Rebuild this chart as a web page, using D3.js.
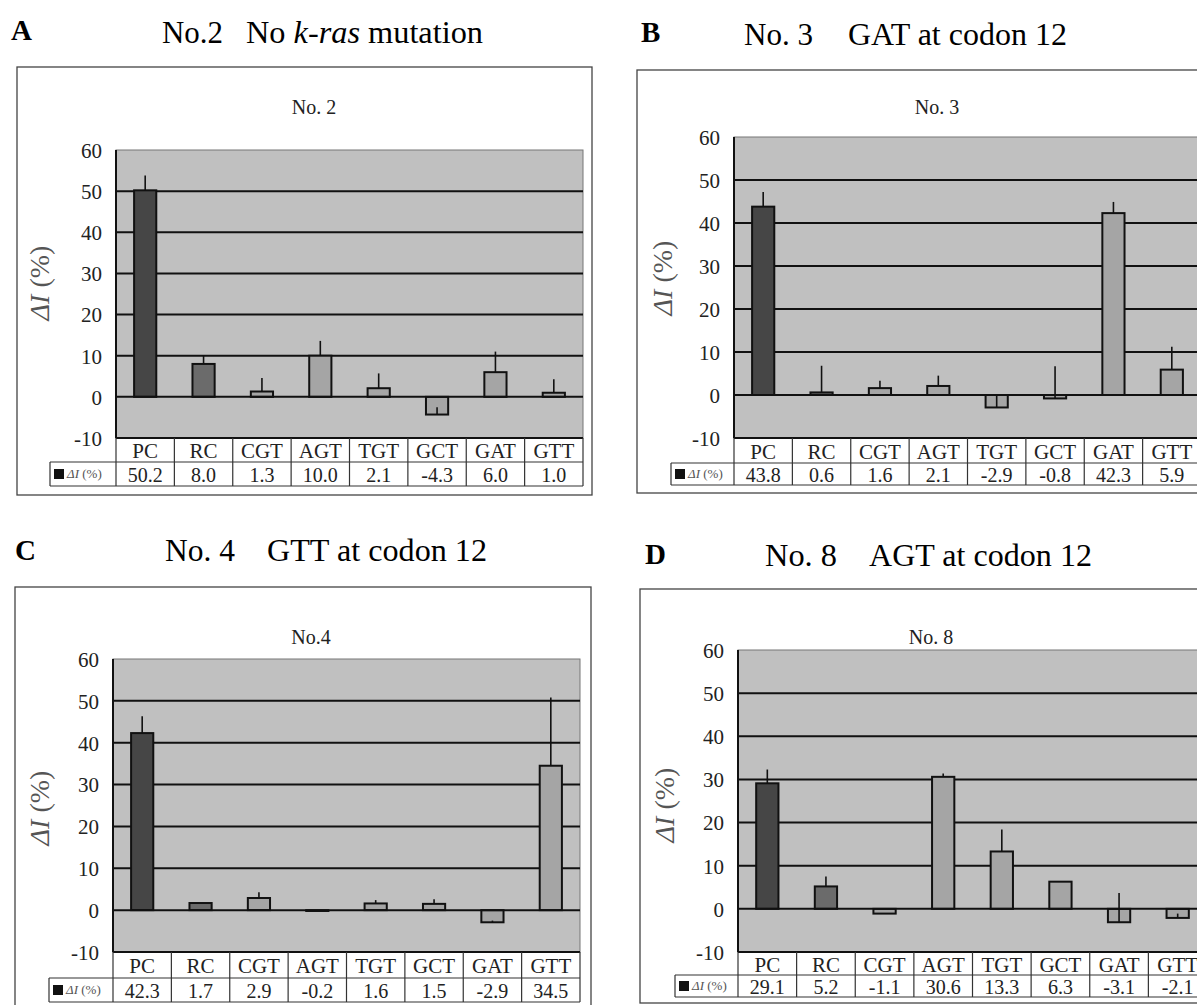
<!DOCTYPE html>
<html>
<head>
<meta charset="utf-8">
<script src="https://cdn.jsdelivr.net/npm/d3@7"></script>
<style>
  body { margin: 0; background: #fff; }
  text { font-family: 'Liberation Serif', 'Times New Roman', serif; }
</style>
</head>
<body>
<div id="container"></div>
<script>
const w = 1197,
  h = 1005;

// data
const categories = ['PC', 'RC', 'CGT', 'AGT', 'TGT', 'GCT', 'GAT', 'GTT'];
const yTicks = [-10, 0, 10, 20, 30, 40, 50, 60];
const gridValues = [10, 20, 30, 40, 50];

const valuesA = [50.2, 8.0, 1.3, 10.0, 2.1, -4.3, 6.0, 1.0];
const errorsA = [3.6, 2.0, 3.3, 3.6, 3.6, 1.8, 5.0, 3.3];

const valuesB = [43.8, 0.6, 1.6, 2.1, -2.9, -0.8, 42.3, 5.9];
const errorsB = [3.4, 6.2, 1.7, 2.4, 2.9, 7.5, 2.6, 5.3];

const valuesC = [42.3, 1.7, 2.9, -0.2, 1.6, 1.5, -2.9, 34.5];
const errorsC = [4.0, 0, 1.4, 0, 0.8, 1.1, 0.4, 16.3];

const valuesD = [29.1, 5.2, -1.1, 30.6, 13.3, 6.3, -3.1, -2.1];
const errorsD = [3.2, 2.3, 0, 0.8, 5.1, 0, 6.8, 1.0];

const barFill = ['#464646', '#6b6b6b', '#a5a5a5', '#a5a5a5', '#a5a5a5', '#a5a5a5', '#a5a5a5', '#a5a5a5'];
const serif = "'Liberation Serif', 'Times New Roman', serif";

const svg = d3.select('#container').append('svg').attr('width', w).attr('height', h);

const panels = [
  {
    letter: 'A', lx: 11, ly: 40,
    t1: 'No.2', t1x: 162, t1w: 61, t2: ['No ', 'k-ras', ' mutation'], t2x: 246, t2w: 237, ty: 43,
    inner: 'No. 2', ix: 314, iy: 114,
    box: [17, 67, 592, 495],
    px: [116, 583], py: [150, 438], catBottom: 462, valBottom: 486, legendX: 50,
    yl: [43, 283],
    values: valuesA, errors: errorsA
  },
  {
    letter: 'B', lx: 641, ly: 42,
    t1: 'No. 3', t1x: 744, t1w: 69, t2: ['GAT at codon 12'], t2x: 848, t2w: 219, ty: 45,
    inner: 'No. 3', ix: 937, iy: 114,
    box: [637, 70, 1240, 493],
    px: [734, 1201], py: [137, 438], catBottom: 463, valBottom: 485, legendX: 671,
    yl: [666, 278],
    values: valuesB, errors: errorsB
  },
  {
    letter: 'C', lx: 15, ly: 560,
    t1: 'No. 4', t1x: 165, t1w: 70, t2: ['GTT at codon 12'], t2x: 267, t2w: 220, ty: 561,
    inner: 'No.4', ix: 311, iy: 644,
    box: [15, 587, 591, 1040],
    px: [113, 580], py: [659, 952], catBottom: 978, valBottom: 1002, legendX: 49,
    yl: [43, 808],
    values: valuesC, errors: errorsC
  },
  {
    letter: 'D', lx: 645, ly: 564,
    t1: 'No. 8', t1x: 765, t1w: 72, t2: ['AGT at codon 12'], t2x: 869, t2w: 223, ty: 566,
    inner: 'No. 8', ix: 931, iy: 644,
    box: [640, 589, 1240, 1003],
    px: [738, 1207], py: [650, 952], catBottom: 975, valBottom: 997, legendX: 675,
    yl: [668, 805],
    values: valuesD, errors: errorsD
  }
];

panels.forEach(drawPanel);

function drawPanel(p) {
  const g = svg.append('g').attr('font-family', serif);

  // panel letter and heading
  g.append('text')
    .text(p.letter)
    .attr('x', p.lx)
    .attr('y', p.ly)
    .attr('font-size', 29)
    .attr('font-weight', 'bold');

  g.append('text')
    .text(p.t1)
    .attr('x', p.t1x)
    .attr('y', p.ty)
    .attr('font-size', 31)
    .attr('textLength', p.t1w)
    .attr('lengthAdjust', 'spacingAndGlyphs');

  const t2 = g.append('text')
    .attr('x', p.t2x)
    .attr('y', p.ty)
    .attr('font-size', 31)
    .attr('textLength', p.t2w)
    .attr('lengthAdjust', 'spacingAndGlyphs');
  p.t2.forEach((s) => {
    t2.append('tspan')
      .text(s)
      .attr('font-style', s === 'k-ras' ? 'italic' : 'normal');
  });

  // outer frame
  g.append('rect')
    .attr('x', p.box[0])
    .attr('y', p.box[1])
    .attr('width', p.box[2] - p.box[0])
    .attr('height', p.box[3] - p.box[1])
    .attr('fill', 'none')
    .attr('stroke', '#444')
    .attr('stroke-width', 1.3);

  g.append('text')
    .text(p.inner)
    .attr('x', p.ix)
    .attr('y', p.iy)
    .attr('text-anchor', 'middle')
    .attr('font-size', 20)
    .attr('fill', '#222');

  const xScale = d3.scaleBand().domain(categories).range(p.px);
  const yScale = d3.scaleLinear().domain([-10, 60]).range([p.py[1], p.py[0]]);

  // plot background
  g.append('rect')
    .attr('x', p.px[0])
    .attr('y', p.py[0])
    .attr('width', p.px[1] - p.px[0])
    .attr('height', p.py[1] - p.py[0])
    .attr('fill', '#c0c0c0')
    .attr('stroke', '#777')
    .attr('stroke-width', 1);

  g.selectAll('.grid')
    .data(gridValues)
    .enter()
    .append('line')
    .attr('x1', p.px[0])
    .attr('x2', p.px[1])
    .attr('y1', (d) => yScale(d))
    .attr('y2', (d) => yScale(d))
    .attr('stroke', '#111')
    .attr('stroke-width', 2);

  const barW = xScale.bandwidth() * 0.38;

  g.selectAll('.bar')
    .data(p.values)
    .enter()
    .append('rect')
    .attr('x', (d, i) => xScale(categories[i]) + (xScale.bandwidth() - barW) / 2)
    .attr('y', (d) => yScale(Math.max(0, d)))
    .attr('width', barW)
    .attr('height', (d) => Math.abs(yScale(d) - yScale(0)))
    .attr('fill', (d, i) => barFill[i])
    .attr('stroke', '#111')
    .attr('stroke-width', 2);

  // zero line
  g.append('line')
    .attr('x1', p.px[0])
    .attr('x2', p.px[1])
    .attr('y1', yScale(0))
    .attr('y2', yScale(0))
    .attr('stroke', '#111')
    .attr('stroke-width', 2);

  // error bars (plus direction only)
  g.selectAll('.err')
    .data(p.values)
    .enter()
    .append('line')
    .attr('x1', (d, i) => xScale(categories[i]) + xScale.bandwidth() / 2)
    .attr('x2', (d, i) => xScale(categories[i]) + xScale.bandwidth() / 2)
    .attr('y1', (d) => yScale(d))
    .attr('y2', (d, i) => yScale(d + p.errors[i]))
    .attr('stroke', '#111')
    .attr('stroke-width', 1.6);

  // left and bottom plot edges
  g.append('line')
    .attr('x1', p.px[0]).attr('x2', p.px[0])
    .attr('y1', p.py[0]).attr('y2', p.py[1])
    .attr('stroke', '#111').attr('stroke-width', 2);
  g.append('line')
    .attr('x1', p.px[0]).attr('x2', p.px[1])
    .attr('y1', p.py[1]).attr('y2', p.py[1])
    .attr('stroke', '#111').attr('stroke-width', 2);

  const yAxis = d3.axisLeft(yScale)
    .tickValues(yTicks)
    .tickSize(0)
    .tickPadding(14)
    .tickFormat((d) => String(d));

  const ax = g.append('g')
    .attr('transform', 'translate(' + p.px[0] + ', 0)')
    .call(yAxis)
    .attr('font-family', serif)
    .attr('font-size', 21);
  ax.select('.domain').remove();
  ax.selectAll('text')
    .attr('fill', '#222')
    .attr('dy', '0.35em');

  // y label
  const yl = g.append('text')
    .attr('transform', 'translate(' + p.yl[0] + ',' + p.yl[1] + ') rotate(-90)')
    .attr('text-anchor', 'middle')
    .attr('dominant-baseline', 'middle')
    .attr('font-size', 28)
    .attr('fill', '#555');
  yl.append('tspan').text('ΔI').attr('font-style', 'italic');
  yl.append('tspan').text(' (%)');

  // data table under the plot
  const catMid = (p.py[1] + p.catBottom) / 2;
  const valMid = (p.catBottom + p.valBottom) / 2;

  g.selectAll('.cat')
    .data(categories)
    .enter()
    .append('text')
    .text((d) => d)
    .attr('x', (d) => xScale(d) + xScale.bandwidth() / 2)
    .attr('y', catMid + 8)
    .attr('text-anchor', 'middle')
    .attr('font-size', 21)
    .attr('fill', '#222');

  g.selectAll('.val')
    .data(p.values)
    .enter()
    .append('text')
    .text((d) => d.toFixed(1))
    .attr('x', (d, i) => xScale(categories[i]) + xScale.bandwidth() / 2)
    .attr('y', valMid + 8)
    .attr('text-anchor', 'middle')
    .attr('font-size', 20)
    .attr('fill', '#222');

  const dividers = categories.map((d) => xScale(d)).concat([p.px[1]]);
  g.selectAll('.div')
    .data(dividers)
    .enter()
    .append('line')
    .attr('x1', (d) => d)
    .attr('x2', (d) => d)
    .attr('y1', p.py[1])
    .attr('y2', p.valBottom)
    .attr('stroke', '#333')
    .attr('stroke-width', 1.2);

  [p.catBottom, p.valBottom].forEach((yy) => {
    g.append('line')
      .attr('x1', p.legendX).attr('x2', p.px[1])
      .attr('y1', yy).attr('y2', yy)
      .attr('stroke', '#333').attr('stroke-width', 1.2);
  });
  g.append('line')
    .attr('x1', p.legendX).attr('x2', p.legendX)
    .attr('y1', p.catBottom).attr('y2', p.valBottom)
    .attr('stroke', '#333').attr('stroke-width', 1.2);

  // legend key
  g.append('rect')
    .attr('x', p.legendX + 4)
    .attr('y', valMid - 5)
    .attr('width', 10)
    .attr('height', 10)
    .attr('fill', '#111');
  const lg = g.append('text')
    .attr('x', p.legendX + 17)
    .attr('y', valMid + 4)
    .attr('font-size', 13)
    .attr('fill', '#555');
  lg.append('tspan').text('ΔI').attr('font-style', 'italic');
  lg.append('tspan').text(' (%)');
}
</script>
</body>
</html>
